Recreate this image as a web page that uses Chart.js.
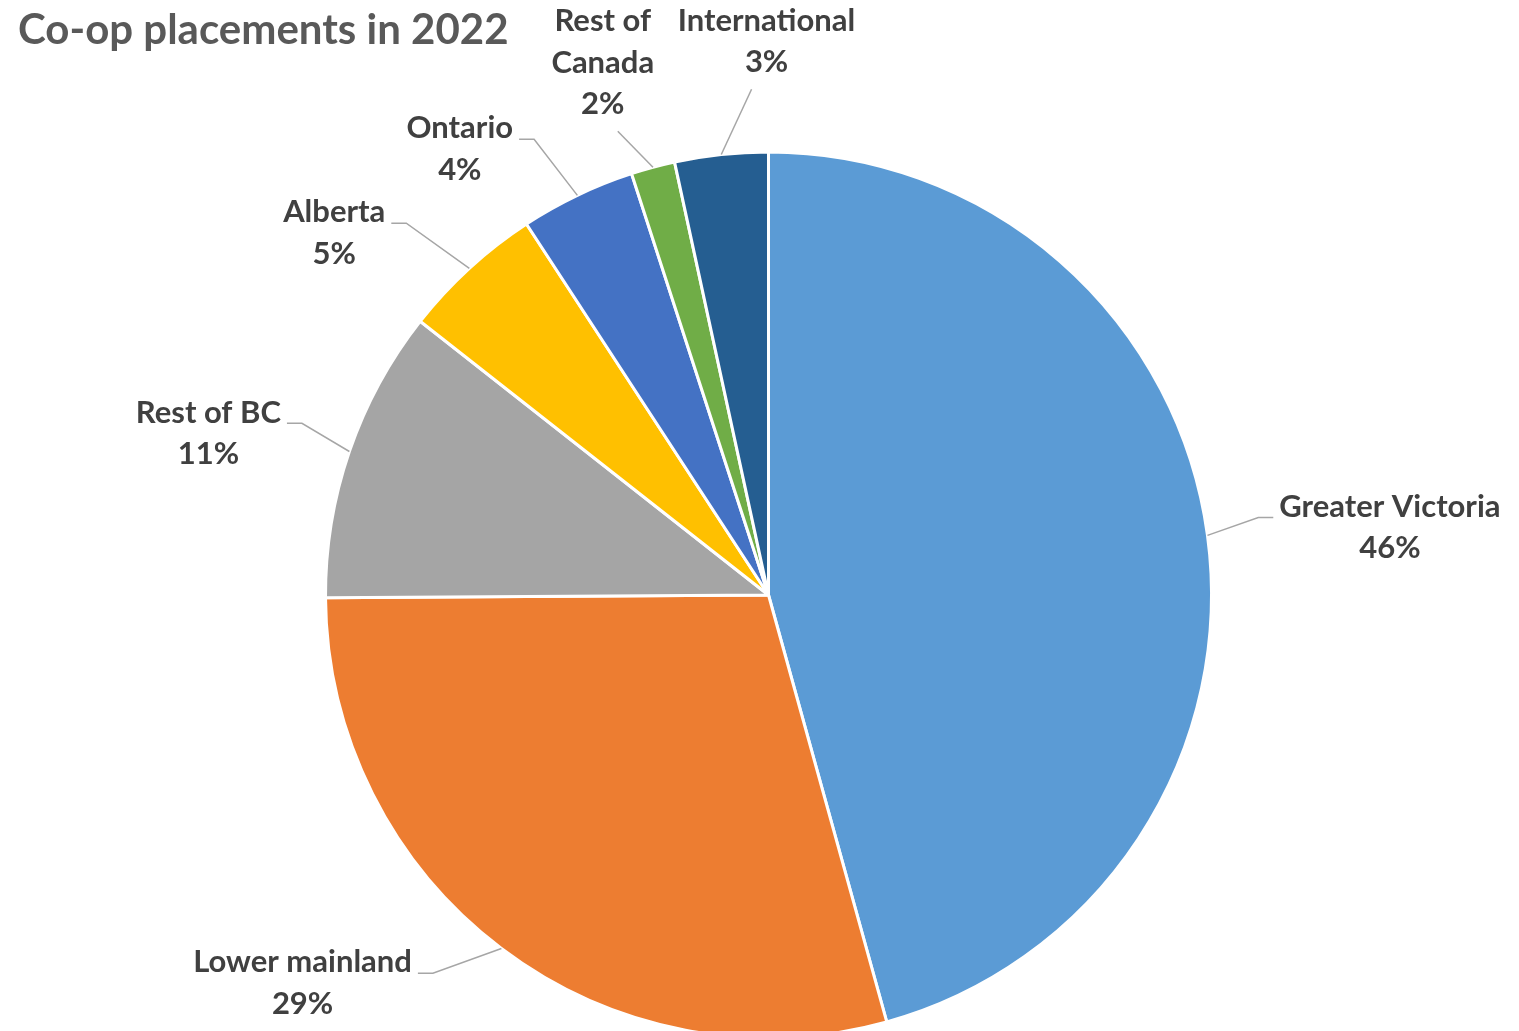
<!DOCTYPE html>
<html><head><meta charset="utf-8">
<script src="https://cdn.jsdelivr.net/npm/chart.js@4.4.1/dist/chart.umd.min.js"></script>
<style>html,body{margin:0;padding:0;background:#fff;} canvas{display:block;}</style>
</head><body>
<canvas id="c" width="1519" height="1031"></canvas>
<script>
const categories = ['Greater Victoria','Lower mainland','Rest of BC','Alberta','Ontario','Rest of Canada','International'];
const labelLines = [['Greater Victoria'],['Lower mainland'],['Rest of BC'],['Alberta'],['Ontario'],['Rest of','Canada'],['International']];
const shares = [45.7, 29.2, 10.7, 5.2, 4.2, 1.6, 3.4];
const colors = ['#5B9BD5','#ED7D31','#A5A5A5','#FFC000','#4472C4','#70AD47','#255E91'];
// label placement around the pie: angle (deg, clockwise from 12 o'clock) and distance in pie radii
const labelAngles = [83.8, 230.2, 286.1, 309.8, 325.3, 342.7, 359.8];
const labelDistances = [1.411, 1.369, 1.316, 1.276, 1.224, 1.258, 1.249];

const LABEL_FONT = 'bold 31px Lato';
const LINE_H = 41.5;

const outsideLabels = {
  id: 'outsideLabels',
  afterDatasetsDraw(chart) {
    const ctx = chart.ctx;
    const meta = chart.getDatasetMeta(0);
    const total = shares.reduce((a, b) => a + b, 0);
    ctx.save();
    ctx.font = LABEL_FONT;
    ctx.textAlign = 'center';
    ctx.textBaseline = 'middle';
    meta.data.forEach((arc, i) => {
      const p = arc.getProps(['x', 'y', 'outerRadius', 'startAngle', 'endAngle'], true);
      const mid = (p.startAngle + p.endAngle) / 2;
      const r = p.outerRadius;
      const px = p.x + Math.cos(mid) * r, py = p.y + Math.sin(mid) * r;
      const la = (labelAngles[i] - 90) * Math.PI / 180;
      const lx = p.x + Math.cos(la) * r * labelDistances[i];
      const ly = p.y + Math.sin(la) * r * labelDistances[i];
      const lines = [...labelLines[i], Math.round(shares[i] / total * 100) + '%'];
      const w = Math.max(...lines.map(t => ctx.measureText(t).width));
      const h = lines.length * LINE_H;
      const box = { l: lx - w / 2, r: lx + w / 2, t: ly - h / 2, b: ly + h / 2 };
      // leader line
      ctx.strokeStyle = '#A6A6A6';
      ctx.lineWidth = 1.5;
      ctx.beginPath();
      ctx.moveTo(px, py);
      if (px < box.l - 6) {
        const qx = box.l - 6, qy = ly - 10;
        ctx.lineTo(qx - 15, qy); ctx.lineTo(qx, qy);
      } else if (px > box.r + 6) {
        const qx = box.r + 6, qy = ly - 10;
        ctx.lineTo(qx + 15, qy); ctx.lineTo(qx, qy);
      } else {
        const qx = Math.min(Math.max(px, lx - 15), lx + 15), qy = box.b + 6;
        ctx.lineTo(qx, qy);
      }
      ctx.stroke();
      ctx.fillStyle = '#404040';
      lines.forEach((t, k) => ctx.fillText(t, lx, box.t + LINE_H * (k + 0.5)));
    });
    ctx.restore();
  }
};

new Chart(document.getElementById('c'), {
  type: 'pie',
  data: {
    labels: categories,
    datasets: [{
      data: shares,
      backgroundColor: colors,
      borderColor: '#ffffff',
      borderWidth: 3,
      radius: 443,
      clip: false
    }]
  },
  options: {
    responsive: false,
    animation: false,
    layout: { padding: { left: 18, right: 0, top: 0, bottom: 0 } },
    plugins: {
      legend: { display: false },
      tooltip: { enabled: false },
      title: {
        display: true,
        text: 'Co-op placements in 2022',
        align: 'start',
        color: '#595959',
        font: { family: 'Lato', size: 42, weight: 'bold', lineHeight: 1.2 },
        padding: { top: 5, bottom: 103.6 }
      }
    }
  },
  plugins: [outsideLabels]
});
</script>
</body></html>
